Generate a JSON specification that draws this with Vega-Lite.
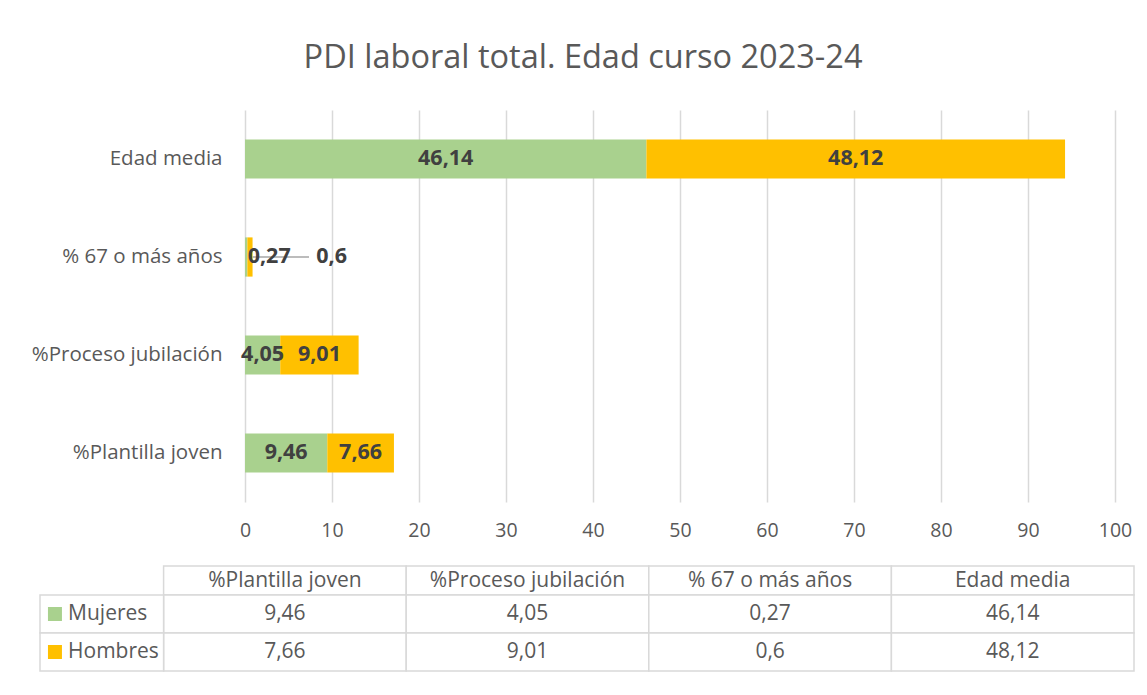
{
  "$schema": "https://vega.github.io/schema/vega-lite/v6.json",
  "padding": {"left": 31, "top": 41, "right": 14, "bottom": 10},
  "background": "white",
  "config": {
    "locale": {"number": {"decimal": ",", "thousands": ".", "grouping": [3], "currency": ["", " €"]}},
    "view": {"stroke": null},
    "font": "Open Sans"
  },
  "title": {"text": "PDI laboral total. Edad curso 2023-24", "fontSize": 32.5, "font": "Open Sans", "fontWeight": "normal", "color": "#595959", "anchor": "middle", "offset": 36},
  "datasets": {
    "d": [
      {"cat": "%Plantilla joven", "series": "Mujeres", "value": 9.46, "ord": 1},
      {"cat": "%Plantilla joven", "series": "Hombres", "value": 7.66, "ord": 2},
      {"cat": "%Proceso jubilación", "series": "Mujeres", "value": 4.05, "ord": 1},
      {"cat": "%Proceso jubilación", "series": "Hombres", "value": 9.01, "ord": 2},
      {"cat": "% 67 o más años", "series": "Mujeres", "value": 0.27, "ord": 1},
      {"cat": "% 67 o más años", "series": "Hombres", "value": 0.6, "ord": 2},
      {"cat": "Edad media", "series": "Mujeres", "value": 46.14, "ord": 1},
      {"cat": "Edad media", "series": "Hombres", "value": 48.12, "ord": 2}
    ]
  },
  "spacing": 25,
  "resolve": {"scale": {"x": "independent", "y": "independent", "color": "shared"}},
  "vconcat": [
    {
      "width": 1094,
      "height": 392,
      "data": {"name": "d"},
      "encoding": {
        "y": {"field": "cat", "type": "nominal", "sort": ["Edad media", "% 67 o más años", "%Proceso jubilación", "%Plantilla joven"],
          "scale": {"paddingInner": 0.6, "paddingOuter": 0.3},
          "axis": {"title": null, "ticks": false, "domain": false, "grid": false, "offset": -188, "labelPadding": 6, "labelLimit": 400, "labelFontSize": 20.5, "labelColor": "#595959", "labelFont": "Open Sans"}}
      },
      "layer": [
        {
          "mark": {"type": "bar"},
          "encoding": {
            "x": {"field": "value", "type": "quantitative", "stack": "zero",
              "scale": {"domain": [-23.563, 102.184], "nice": false, "zero": false},
              "axis": {"values": [0, 10, 20, 30, 40, 50, 60, 70, 80, 90, 100], "title": null, "grid": true, "gridColor": "#D9D9D9", "gridWidth": 1.5, "ticks": false, "domain": false, "labelPadding": 19, "labelFontSize": 19.5, "labelColor": "#595959", "labelFont": "Open Sans"}},
            "color": {"field": "series", "type": "nominal", "scale": {"domain": ["Mujeres", "Hombres"], "range": ["#A9D18E", "#FFC000"]}, "legend": null},
            "order": {"field": "ord"}
          }
        },
        {
          "transform": [{"filter": "datum.cat != '% 67 o más años'"}],
          "mark": {"type": "text", "fontWeight": "bold", "fontSize": 21.5, "color": "#404040", "font": "Open Sans"},
          "encoding": {
            "x": {"field": "value", "type": "quantitative", "stack": "zero", "bandPosition": 0.5},
            "text": {"field": "value", "type": "quantitative", "format": "~g"},
            "order": {"field": "ord"}
          }
        },
        {
          "transform": [{"filter": "datum.cat == '% 67 o más años' && datum.series == 'Hombres'"}],
          "mark": {"type": "rule", "color": "#A6A6A6", "strokeWidth": 1.5},
          "encoding": {
            "x": {"datum": 0.87},
            "x2": {"datum": 7.36}
          }
        },
        {
          "transform": [{"filter": "datum.cat == '% 67 o más años' && datum.series == 'Mujeres'"}],
          "mark": {"type": "text", "fontWeight": "bold", "fontSize": 21.5, "color": "#404040", "font": "Open Sans", "dx": 23},
          "encoding": {
            "x": {"field": "value", "type": "quantitative", "stack": "zero", "bandPosition": 0.5},
            "text": {"field": "value", "type": "quantitative", "format": "~g"}
          }
        },
        {
          "transform": [{"filter": "datum.cat == '% 67 o más años' && datum.series == 'Hombres'"}],
          "mark": {"type": "text", "fontWeight": "bold", "fontSize": 21.5, "color": "#404040", "font": "Open Sans", "dx": 84},
          "encoding": {
            "x": {"field": "value", "type": "quantitative", "stack": "zero", "bandPosition": 0.5},
            "text": {"field": "value", "type": "quantitative", "format": "~g"}
          }
        }
      ]
    },
    {
      "width": 1094,
      "height": 105,
      "data": {"name": "d"},
      "resolve": {"scale": {"x": "independent", "y": "independent"}},
      "layer": [
        {
          "transform": [{"filter": "datum.series == 'Mujeres'"}],
          "encoding": {
            "x": {"field": "cat", "type": "nominal", "axis": null,
              "scale": {"domain": ["%Plantilla joven", "%Proceso jubilación", "% 67 o más años", "Edad media"], "paddingInner": 0, "paddingOuter": 0.25474, "align": 1}},
            "y": {"field": "series", "type": "nominal", "axis": null,
              "scale": {"domain": ["Mujeres"], "paddingInner": 0.23684, "paddingOuter": 1, "align": 0}}
          },
          "layer": [
            {"mark": {"type": "rect", "fill": "white", "stroke": "#D9D9D9", "strokeWidth": 1.5}},
            {"mark": {"type": "text", "fontSize": 21, "color": "#595959", "font": "Open Sans"}, "encoding": {"text": {"field": "cat"}}}
          ]
        },
        {
          "encoding": {
            "x": {"field": "cat", "type": "nominal", "axis": null,
              "scale": {"domain": ["%Plantilla joven", "%Proceso jubilación", "% 67 o más años", "Edad media"], "paddingInner": 0, "paddingOuter": 0.25474, "align": 1}},
            "y": {"field": "series", "type": "nominal", "axis": null,
              "scale": {"domain": ["Mujeres", "Hombres"], "paddingInner": 0, "paddingOuter": 0.3816, "align": 1}}
          },
          "layer": [
            {"mark": {"type": "rect", "fill": "white", "stroke": "#D9D9D9", "strokeWidth": 1.5}},
            {"mark": {"type": "text", "fontSize": 21, "color": "#595959", "font": "Open Sans"}, "encoding": {"text": {"field": "value", "type": "quantitative", "format": "~g"}}}
          ]
        },
        {
          "transform": [{"filter": "datum.cat == 'Edad media'"}],
          "encoding": {
            "y": {"field": "series", "type": "nominal", "axis": null,
              "scale": {"domain": ["Mujeres", "Hombres"], "paddingInner": 0, "paddingOuter": 0.3816, "align": 1}}
          },
          "layer": [
            {
              "mark": {"type": "rect", "fill": "white", "stroke": "#D9D9D9", "strokeWidth": 1.5},
              "encoding": {"x": {"field": "cat", "type": "nominal", "axis": null, "scale": {"domain": ["Edad media"], "paddingInner": 0.74526, "paddingOuter": 1, "align": 0}}}
            },
            {
              "mark": {"type": "point", "shape": "square", "filled": true, "opacity": 1, "size": 196},
              "encoding": {
                "x": {"field": "cat", "type": "nominal", "axis": null, "bandPosition": 0.121, "scale": {"domain": ["Edad media"], "paddingInner": 0.74526, "paddingOuter": 1, "align": 0}},
                "color": {"field": "series", "type": "nominal", "legend": null}
              }
            },
            {
              "mark": {"type": "text", "fontSize": 21, "color": "#595959", "font": "Open Sans", "align": "left"},
              "encoding": {
                "x": {"field": "cat", "type": "nominal", "axis": null, "bandPosition": 0.227, "scale": {"domain": ["Edad media"], "paddingInner": 0.74526, "paddingOuter": 1, "align": 0}},
                "text": {"field": "series"}
              }
            }
          ]
        }
      ]
    }
  ]
}
